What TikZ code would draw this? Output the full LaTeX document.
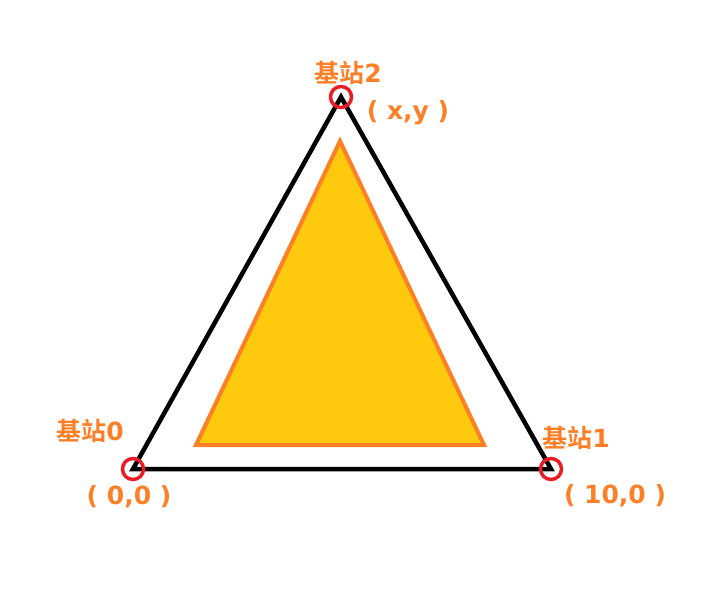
\documentclass[tikz,border=0pt]{standalone}
\usepackage{fontspec}
\newfontfamily\cjk{Noto Sans CJK SC Bold}
\newfontfamily\lat{DejaVu Sans Bold}
\definecolor{lblorange}{HTML}{FF7F27}
\definecolor{fillgold}{HTML}{FFC90E}
\definecolor{ringred}{HTML}{ED1C24}
\begin{document}
\begin{tikzpicture}[x=1pt,y=-1pt,
  lbl/.style={text=lblorange,font=\lat\fontsize{25}{27}\selectfont,inner sep=0pt,anchor=center},
  ring/.style={draw=ringred,line width=3.5pt,circle,minimum size=21pt,inner sep=0pt},
  edge/.style={draw=black,line width=4.5pt}]
\useasboundingbox (0,0) rectangle (716,599);
\coordinate (A) at (133,469);
\coordinate (B) at (551,469);
\coordinate (C) at (341,97);
\draw[edge,line join=miter] (A) -- (B) -- (C) -- cycle;
\coordinate (p) at (196,445);
\coordinate (q) at (484,445);
\coordinate (r) at (340,141);
\filldraw[fill=fillgold,draw=lblorange,line width=4pt,line join=miter] (p) -- (q) -- (r) -- cycle;
\node[ring] (r0) at (A) {};
\node[ring] (r1) at (B) {};
\node[ring] (r2) at (C) {};
\node[lbl] (l2) at (348,73) {{\cjk 基站}2};
\node[lbl] (c2) at (408,113) {( x,y )};
\node[lbl] (l0) at (90,431) {{\cjk 基站}0};
\node[lbl] (c0) at (129,497) {( 0,0 )};
\node[lbl] (l1) at (576,438) {{\cjk 基站}1};
\node[lbl] (c1) at (615,496) {( 10,0 )};
\end{tikzpicture}
\end{document}
